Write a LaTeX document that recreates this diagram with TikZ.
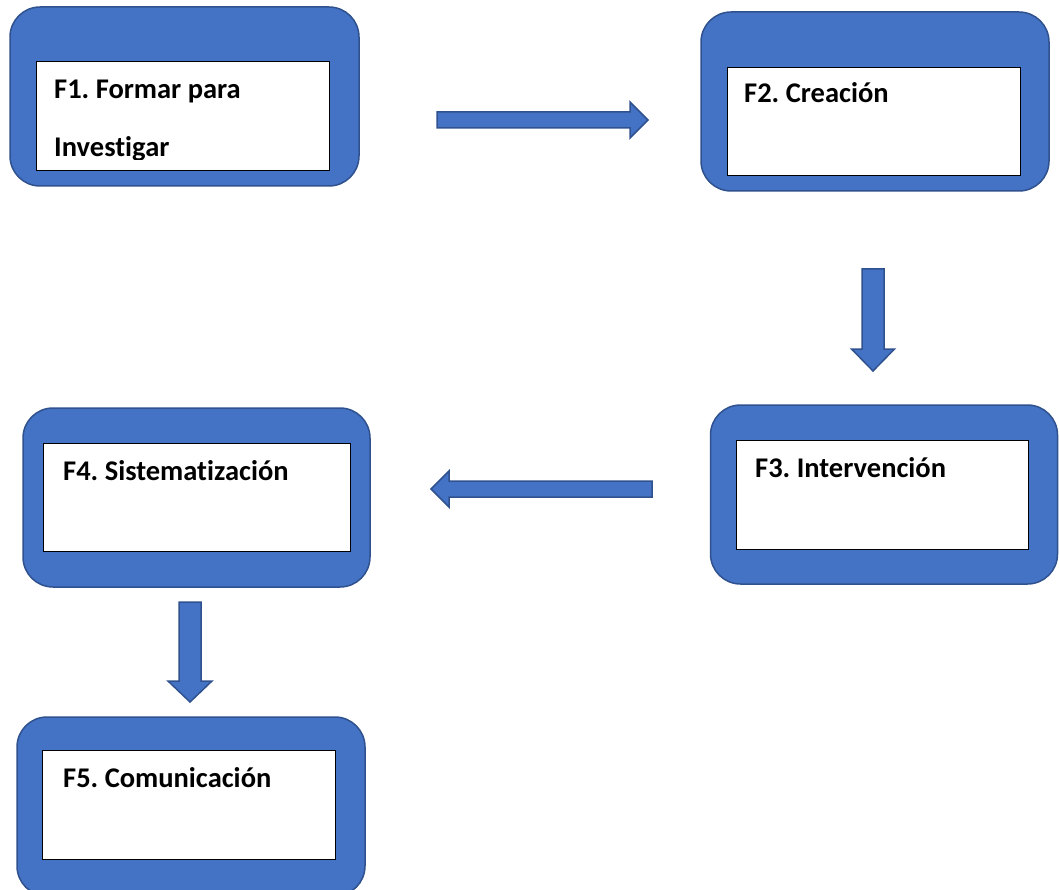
\documentclass[tikz,border=0pt]{standalone}
\usepackage{fontspec}
\setmainfont{Carlito}[Ligatures=NoCommon]
\usetikzlibrary{calc}
\definecolor{boxblue}{HTML}{4472C4}
\definecolor{edgeblue}{HTML}{2F528F}
\tikzset{
  outerbox/.style={draw=edgeblue,line width=1.5pt,fill=boxblue,rounded corners=30pt},
  innerbox/.style={draw=black,line width=1pt,fill=white},
  phase/.style={inner sep=0pt,anchor=base west,align=left,font=\fontsize{28.5}{58}\selectfont\bfseries\frenchspacing},
  arrowbody/.style={draw=edgeblue,line width=1.5pt,fill=boxblue,line join=miter}
}
% block arrow: tail, tip, half shaft, half head, head length
\newcommand{\fatarrow}[5]{%
  \coordinate (hb) at ($(#2)!#5!(#1)$);
  \draw[arrowbody] ($(#1)!#3!90:(#2)$) -- ($(hb)!#3!90:(#2)$) -- ($(hb)!#4!90:(#2)$) -- (#2)
    -- ($(hb)!#4!-90:(#2)$) -- ($(hb)!#3!-90:(#2)$) -- ($(#1)!#3!-90:(#2)$) -- cycle;}
\begin{document}
\begin{tikzpicture}[x=1pt,y=-1pt]
\useasboundingbox (0,0) rectangle (1059,890);
% fases
\node[outerbox,minimum width=349pt,minimum height=179pt] (f1) at (184.5,96.5) {};
\node[innerbox,minimum width=293pt,minimum height=109pt] (f1in) at (182.5,116.5) {};
\begin{scope}
\clip (36,62) rectangle (329,160);
% base = last line
\node[phase] (f1txt) at (54,157) {F1. Formar para\\Investigar};
\end{scope}

\node[outerbox,minimum width=348pt,minimum height=179pt] (f2) at (875,101.5) {};
\node[innerbox,minimum width=293pt,minimum height=108pt] (f2in) at (873.5,122) {};
\node[phase] (f2txt) at (744,103) {F2. Creación};

\node[outerbox,minimum width=347pt,minimum height=179pt] (f3) at (884,494.5) {};
\node[innerbox,minimum width=292pt,minimum height=109pt] (f3in) at (882,494.5) {};
\node[phase] (f3txt) at (755,477) {F3. Intervención};

\node[outerbox,minimum width=347pt,minimum height=179pt] (f4) at (196.5,497.5) {};
\node[innerbox,minimum width=307pt,minimum height=108pt] (f4in) at (196.5,497) {};
\node[phase] (f4txt) at (63,480) {F4. Sistematización};

\node[outerbox,minimum width=348pt,minimum height=179pt] (f5) at (191,806.5) {};
\node[innerbox,minimum width=293pt,minimum height=109pt] (f5in) at (188.5,804.5) {};
\node[phase] (f5txt) at (63,787) {F5. Comunicación};

% flechas
\coordinate (a12s) at (437,120); \coordinate (a12e) at (648,120);
\coordinate (a23s) at (873,269); \coordinate (a23e) at (873,371);
\coordinate (a34s) at (652,489); \coordinate (a34e) at (431,489);
\coordinate (a45s) at (190,602); \coordinate (a45e) at (190,702);
\fatarrow{a12s}{a12e}{8pt}{18pt}{18pt}
\fatarrow{a23s}{a23e}{11pt}{21.5pt}{22pt}
\fatarrow{a34s}{a34e}{8pt}{18pt}{18pt}
\fatarrow{a45s}{a45e}{11pt}{22pt}{21pt}
\end{tikzpicture}
\end{document}
